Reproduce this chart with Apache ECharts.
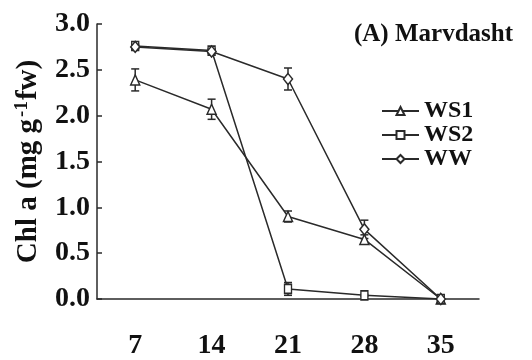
<!DOCTYPE html>
<html><head><meta charset="utf-8">
<script src="https://cdn.jsdelivr.net/npm/echarts@6/dist/echarts.min.js"></script>
<style>html,body{margin:0;padding:0;background:#fff}#c{width:532px;height:360px}</style>
</head><body><div id="c"></div>
<script>
var days = ['7', '14', '21', '28', '35'];
var ws1 = [2.39, 2.07, 0.90, 0.65, 0.00];
var ws1Err = [0.12, 0.11, 0.06, 0.05, 0.00];
var ws2 = [2.76, 2.71, 0.11, 0.04, 0.00];
var ws2Err = [0.02, 0.02, 0.07, 0.01, 0.00];
var ww = [2.75, 2.70, 2.40, 0.76, 0.00];
var wwErr = [0.02, 0.02, 0.12, 0.10, 0.00];
var yTicks = [0, 0.5, 1.0, 1.5, 2.0, 2.5, 3.0];

var FONT = '"Liberation Serif", "Times New Roman", serif';
var INK = '#2a2a2a';

function errData(vals, errs) {
  return vals.map(function (v, i) { return [i, v, errs[i]]; });
}
function errSeries(vals, errs) {
  return {
    type: 'custom',
    silent: true,
    z: 1,
    data: errData(vals, errs),
    renderItem: function (params, api) {
      var x = api.value(0), v = api.value(1), e = api.value(2);
      if (!e) return null;
      var hi = api.coord([x, v + e]);
      var lo = api.coord([x, v - e]);
      var w = 4;
      var st = { stroke: INK, lineWidth: 1.5 };
      return {
        type: 'group',
        children: [
          { type: 'line', shape: { x1: hi[0], y1: hi[1], x2: lo[0], y2: lo[1] }, style: st },
          { type: 'line', shape: { x1: hi[0] - w, y1: hi[1], x2: hi[0] + w, y2: hi[1] }, style: st },
          { type: 'line', shape: { x1: lo[0] - w, y1: lo[1], x2: lo[0] + w, y2: lo[1] }, style: st }
        ]
      };
    }
  };
}
function lineSeries(name, vals, symbol, size) {
  return {
    name: name,
    type: 'line',
    data: vals,
    symbol: symbol,
    symbolSize: size,
    showAllSymbol: true,
    z: 3,
    lineStyle: { color: INK, width: 1.5 },
    itemStyle: { color: '#fff', borderColor: INK, borderWidth: 1.5 },
    emphasis: { disabled: true }
  };
}

var chart = echarts.init(document.getElementById('c'), null, { renderer: 'canvas' });
chart.setOption({
  animation: false,
  backgroundColor: '#fff',
  title: {
    text: '(A) Marvdasht',
    right: 14, top: 17,
    textStyle: { fontFamily: FONT, fontWeight: 'bold', fontSize: 25, color: '#111' }
  },
  legend: {
    data: ['WS1', 'WS2', 'WW'],
    orient: 'vertical',
    left: 376, top: 94,
    itemWidth: 37, itemHeight: 10,
    itemGap: 0,
    textStyle: { fontFamily: FONT, fontWeight: 'bold', fontSize: 24, color: '#111', lineHeight: 21 }
  },
  grid: { left: 97, right: 53, top: 24, bottom: 60 },
  xAxis: {
    type: 'category',
    data: days,
    boundaryGap: true,
    axisLine: { lineStyle: { color: INK, width: 1.5 } },
    axisTick: { inside: true, length: 6, lineStyle: { color: INK, width: 1.5 } },
    axisLabel: { margin: 33, fontFamily: FONT, fontWeight: 'bold', fontSize: 28, color: '#111' }
  },
  yAxis: {
    type: 'value',
    min: yTicks[0], max: yTicks[yTicks.length - 1], interval: 0.5,
    name: '{n|Chl a (mg g}{s|-1}{n|fw)}',
    nameLocation: 'middle',
    nameGap: 53,
    nameRotate: 90,
    nameTextStyle: {
      rich: {
        n: { fontFamily: FONT, fontWeight: 'bold', fontSize: 29, color: '#111' },
        s: { fontFamily: FONT, fontWeight: 'bold', fontSize: 19, color: '#111', verticalAlign: 'top', padding: [0, 1, 12, 2] }
      }
    },
    axisLine: { show: true, lineStyle: { color: INK, width: 1.5 } },
    axisTick: { show: true, inside: true, length: 5, lineStyle: { color: INK, width: 1.5 } },
    splitLine: { show: false },
    axisLabel: {
      margin: 7, fontFamily: FONT, fontWeight: 'bold', fontSize: 28, color: '#111',
      formatter: function (v) { return v.toFixed(1); }
    }
  },
  series: [
    errSeries(ws1, ws1Err),
    errSeries(ws2, ws2Err),
    errSeries(ww, wwErr),
    lineSeries('WS1', ws1, 'triangle', [9, 10]),
    lineSeries('WS2', ws2, 'rect', [7, 9]),
    lineSeries('WW', ww, 'diamond', [9, 11])
  ]
});
</script>
</body></html>
